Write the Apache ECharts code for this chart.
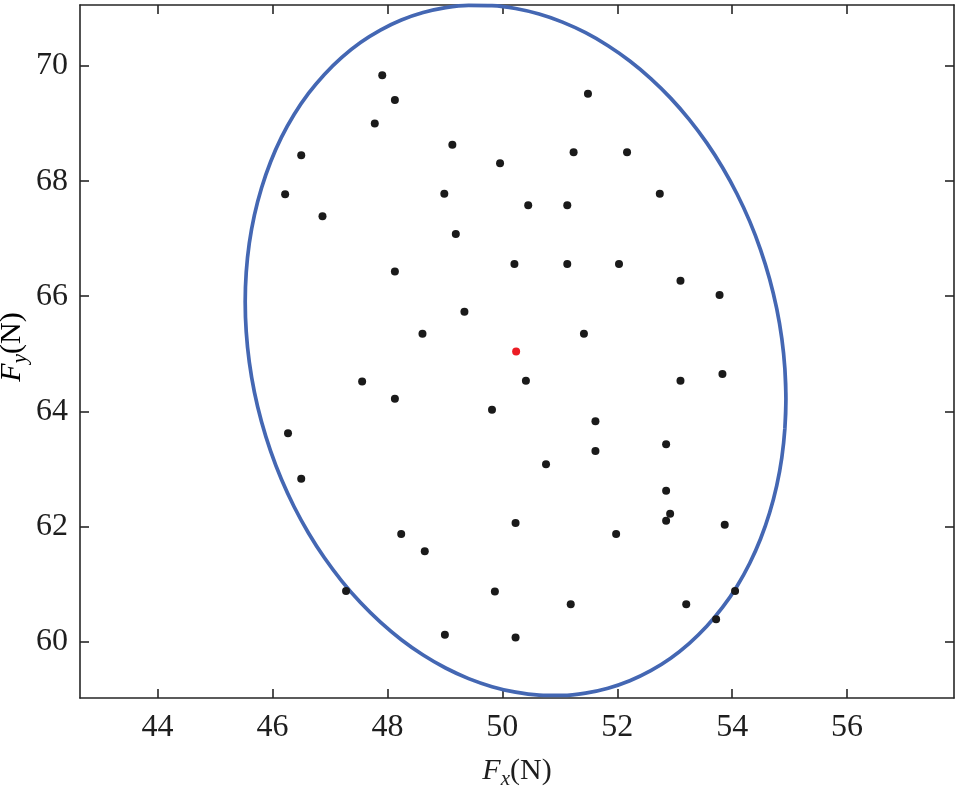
<!DOCTYPE html>
<html>
<head>
<meta charset="utf-8">
<script src="https://cdn.jsdelivr.net/npm/echarts@6/dist/echarts.min.js"></script>
<style>
html,body{margin:0;padding:0;background:#fff;}
#chart{width:959px;height:789px;}
</style>
</head>
<body>
<div id="chart"></div>
<script>
// Tick labels
const xTicks = [44, 46, 48, 50, 52, 54, 56];
const yTicks = [60, 62, 64, 66, 68, 70];
const xRange = [42.65, 57.86];
const yRange = [59.02, 71.06];

// Sample points (Fx, Fy)
const pointsFx = [47.91, 51.49, 48.13, 47.78, 46.50, 49.13, 51.24, 52.17, 49.96, 46.22,
  48.99, 52.74, 46.87, 50.45, 51.13, 49.19, 48.13, 50.21, 51.13, 52.03,
  53.10, 53.78, 49.34, 48.61, 51.42, 47.56, 50.41, 53.10, 53.83, 48.13,
  49.82, 51.62, 46.27, 52.85, 51.62, 50.76, 46.50, 52.85, 52.92, 52.85,
  50.23, 53.87, 48.24, 51.98, 48.65, 47.28, 49.87, 54.05, 51.19, 53.20,
  53.72, 49.00, 50.23];
const pointsFy = [69.84, 69.52, 69.41, 69.00, 68.45, 68.63, 68.50, 68.50, 68.31, 67.77,
  67.78, 67.78, 67.39, 67.58, 67.58, 67.08, 66.43, 66.56, 66.56, 66.56,
  66.27, 66.02, 65.73, 65.35, 65.35, 64.52, 64.53, 64.53, 64.65, 64.22,
  64.03, 63.83, 63.62, 63.43, 63.31, 63.08, 62.83, 62.62, 62.22, 62.10,
  62.06, 62.03, 61.87, 61.87, 61.57, 60.88, 60.87, 60.88, 60.65, 60.65,
  60.39, 60.12, 60.07];

// Mean point (red)
const meanFx = [50.24];
const meanFy = [65.04];

// Ellipse outline points
const ellipseFx = [54.917, 54.935, 54.917, 54.864, 54.775, 54.651, 54.494, 54.305, 54.084, 53.834,
  53.557, 53.254, 52.929, 52.583, 52.218, 51.839, 51.448, 51.047, 50.640, 50.230,
  49.820, 49.413, 49.012, 48.621, 48.242, 47.878, 47.531, 47.206, 46.903, 46.626,
  46.376, 46.155, 45.966, 45.809, 45.685, 45.596, 45.543, 45.525, 45.543, 45.596,
  45.685, 45.809, 45.966, 46.155, 46.376, 46.626, 46.903, 47.206, 47.531, 47.878,
  48.242, 48.621, 49.012, 49.413, 49.820, 50.230, 50.640, 51.047, 51.448, 51.839,
  52.218, 52.583, 52.929, 53.254, 53.557, 53.834, 54.084, 54.305, 54.494, 54.651,
  54.775, 54.864, 54.917, 54.935, 54.917];
const ellipseFy = [63.703, 64.218, 64.739, 65.262, 65.784, 66.300, 66.807, 67.301, 67.777, 68.233,
  68.664, 69.068, 69.442, 69.782, 70.087, 70.353, 70.579, 70.763, 70.903, 70.999,
  71.049, 71.055, 71.015, 70.929, 70.799, 70.624, 70.408, 70.150, 69.854, 69.523,
  69.157, 68.759, 68.333, 67.882, 67.410, 66.920, 66.417, 65.902, 65.381, 64.858,
  64.336, 63.820, 63.313, 62.819, 62.343, 61.887, 61.456, 61.052, 60.678, 60.338,
  60.033, 59.767, 59.541, 59.357, 59.217, 59.121, 59.071, 59.065, 59.105, 59.191,
  59.321, 59.496, 59.712, 59.970, 60.266, 60.597, 60.963, 61.361, 61.787, 62.238,
  62.710, 63.200, 63.703, 64.218, 64.739];

const FONT = "'Liberation Serif', 'Times New Roman', serif";
const AXIS_COLOR = '#262626';
const TEXT_COLOR = '#1e1e1e';

const zip = (a, b) => a.map((v, i) => [v, b[i]]);

const nameRich = {
  i: {fontFamily: FONT, fontStyle: 'italic', fontSize: 30, lineHeight: 30, verticalAlign: 'top', color: TEXT_COLOR},
  s: {fontFamily: FONT, fontStyle: 'italic', fontSize: 21, lineHeight: 34, verticalAlign: 'bottom', color: TEXT_COLOR},
  n: {fontFamily: FONT, fontSize: 30, lineHeight: 30, verticalAlign: 'top', color: TEXT_COLOR}
};

function baseAxis(range, ticks) {
  return {
    type: 'value',
    min: range[0],
    max: range[1],
    splitLine: {show: false},
    axisLine: {show: true, onZero: false, lineStyle: {color: AXIS_COLOR, width: 1.6}},
    axisTick: {show: true, inside: true, length: 9, customValues: ticks, lineStyle: {color: AXIS_COLOR, width: 1.6}},
    axisLabel: {show: true, customValues: ticks, fontFamily: FONT, fontSize: 32, color: TEXT_COLOR}
  };
}

const xMain = Object.assign(baseAxis(xRange, xTicks), {
  position: 'bottom',
  name: '{i|F}{s|x}{n|(N)}',
  nameLocation: 'middle',
  nameGap: 58,
  nameMoveOverlap: false,
  nameTextStyle: {rich: nameRich}
});
xMain.axisLabel.margin = 14;

const xTop = baseAxis(xRange, xTicks);
xTop.position = 'top';
xTop.axisLabel = {show: false, customValues: xTicks};

const yMain = Object.assign(baseAxis(yRange, yTicks), {position: 'left'});
yMain.axisLabel.margin = 12;

const yRight = baseAxis(yRange, yTicks);
yRight.position = 'right';
yRight.axisLabel = {show: false, customValues: yTicks};

const chart = echarts.init(document.getElementById('chart'), null, {renderer: 'canvas'});
chart.setOption({
  animation: false,
  backgroundColor: '#ffffff',
  grid: {left: 80, top: 5, width: 874, height: 693, containLabel: false, outerBoundsMode: 'none'},
  xAxis: [xMain, xTop],
  yAxis: [yMain, yRight],
  graphic: [{
    type: 'text',
    x: 14,
    y: 347,
    rotation: Math.PI / 2,
    style: {
      text: '{i|F}{s|y}{n|(N)}',
      rich: nameRich,
      align: 'center',
      verticalAlign: 'middle'
    }
  }],
  series: [
    {
      type: 'line',
      xAxisIndex: 0, yAxisIndex: 0,
      data: zip(ellipseFx, ellipseFy),
      smooth: 0.3,
      symbol: 'none',
      clip: false,
      lineStyle: {color: '#4467B3', width: 3.7},
      z: 2
    },
    {
      type: 'scatter',
      xAxisIndex: 0, yAxisIndex: 0,
      data: zip(pointsFx, pointsFy),
      symbol: 'circle',
      symbolSize: 8,
      itemStyle: {color: '#1a1a1a', opacity: 1},
      z: 3
    },
    {
      type: 'scatter',
      xAxisIndex: 0, yAxisIndex: 0,
      data: zip(meanFx, meanFy),
      symbol: 'circle',
      symbolSize: 8,
      itemStyle: {color: '#ec1c24', opacity: 1},
      z: 4
    }
  ]
});
</script>
</body>
</html>
